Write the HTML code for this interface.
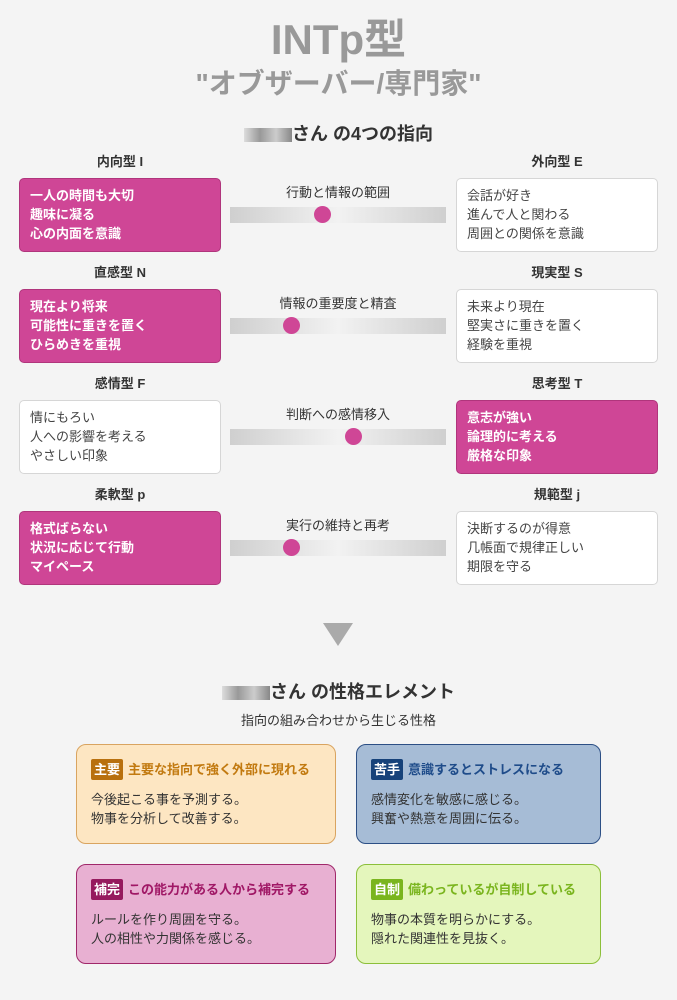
<!DOCTYPE html>
<html><head><meta charset="utf-8"><style>
*{margin:0;padding:0;box-sizing:border-box}
body{width:677px;height:1000px;background:#f4f4f4;font-family:"Liberation Sans","Noto Sans CJK JP",sans-serif;position:relative;overflow:hidden;color:#333}
.a{position:absolute}
.c{text-align:center}
.lab{font-size:13px;font-weight:bold;width:202px;text-align:center}
.box{width:202px;height:74px;border-radius:5px;padding:7px 10px;font-size:13px;line-height:19px}
.on{background:#cf4696;border:1px solid #b0357c;color:#fff;font-weight:bold}
.off{background:#fff;border:1px solid #d6d6d6;color:#444}
.mid{font-size:13px;width:216px;text-align:center}
.bar{width:216px;height:16px;background:linear-gradient(90deg,#cfcfcf,#f2f2f2 50%,#cfcfcf)}
.dot{width:17px;height:17px;border-radius:50%;background:#cf4696}
.card{border-radius:10px;padding:14px 14px;font-size:13px;line-height:19px;color:#333;height:100px}
.card h4{font-size:13px;font-weight:bold;margin-bottom:10px;display:flex;align-items:center}
.card h4 span{color:#fff;padding:1px 3px;border-radius:2px;margin-right:5px}
</style></head><body>
<div class="a c" style="left:0;width:677px;top:6px;font-size:42px;font-weight:bold;color:#999">INTp型</div>
<div class="a c" style="left:0;width:677px;top:62px;font-size:28px;font-weight:bold;color:#999">"オブザーバー/専門家"</div>
<div class="a c" style="left:0;width:677px;top:120px;font-size:18px;font-weight:bold;color:#333"><span style="display:inline-block;width:48px;height:14px;background:linear-gradient(90deg,#ddd,#999,#ccc,#888);vertical-align:middle"></span>さん の4つの指向</div>

<div class="a lab" style="left:19px;top:151px">内向型 I</div>
<div class="a lab" style="left:456px;top:151px">外向型 E</div>
<div class="a box on" style="left:19px;top:178px">一人の時間も大切<br>趣味に凝る<br>心の内面を意識</div>
<div class="a mid" style="left:230px;top:182px">行動と情報の範囲</div>
<div class="a bar" style="left:230px;top:207px"></div>
<div class="a dot" style="left:314px;top:206px"></div>
<div class="a box off" style="left:456px;top:178px">会話が好き<br>進んで人と関わる<br>周囲との関係を意識</div>

<div class="a lab" style="left:19px;top:262px">直感型 N</div>
<div class="a lab" style="left:456px;top:262px">現実型 S</div>
<div class="a box on" style="left:19px;top:289px">現在より将来<br>可能性に重きを置く<br>ひらめきを重視</div>
<div class="a mid" style="left:230px;top:293px">情報の重要度と精査</div>
<div class="a bar" style="left:230px;top:318px"></div>
<div class="a dot" style="left:283px;top:317px"></div>
<div class="a box off" style="left:456px;top:289px">未来より現在<br>堅実さに重きを置く<br>経験を重視</div>

<div class="a lab" style="left:19px;top:373px">感情型 F</div>
<div class="a lab" style="left:456px;top:373px">思考型 T</div>
<div class="a box off" style="left:19px;top:400px">情にもろい<br>人への影響を考える<br>やさしい印象</div>
<div class="a mid" style="left:230px;top:404px">判断への感情移入</div>
<div class="a bar" style="left:230px;top:429px"></div>
<div class="a dot" style="left:345px;top:428px"></div>
<div class="a box on" style="left:456px;top:400px">意志が強い<br>論理的に考える<br>厳格な印象</div>

<div class="a lab" style="left:19px;top:484px">柔軟型 p</div>
<div class="a lab" style="left:456px;top:484px">規範型 j</div>
<div class="a box on" style="left:19px;top:511px">格式ばらない<br>状況に応じて行動<br>マイペース</div>
<div class="a mid" style="left:230px;top:515px">実行の維持と再考</div>
<div class="a bar" style="left:230px;top:540px"></div>
<div class="a dot" style="left:283px;top:539px"></div>
<div class="a box off" style="left:456px;top:511px">決断するのが得意<br>几帳面で規律正しい<br>期限を守る</div>

<div class="a" style="left:323px;top:623px;width:0;height:0;border-left:15px solid transparent;border-right:15px solid transparent;border-top:23px solid #aaa"></div>

<div class="a c" style="left:0;width:677px;top:678px;font-size:18px;font-weight:bold"><span style="display:inline-block;width:48px;height:14px;background:linear-gradient(90deg,#ddd,#999,#ccc,#888);vertical-align:middle"></span>さん の性格エレメント</div>
<div class="a c" style="left:0;width:677px;top:710px;font-size:13px">指向の組み合わせから生じる性格</div>

<div class="a card" style="left:76px;top:744px;width:260px;background:#fde6c2;border:1px solid #d9a460">
<h4 style="color:#c27a10"><span style="background:#b8700e">主要</span>主要な指向で強く外部に現れる</h4>今後起こる事を予測する。<br>物事を分析して改善する。</div>
<div class="a card" style="left:356px;top:744px;width:245px;background:#a6bcd6;border:1px solid #2c4f85">
<h4 style="color:#1f4c8a"><span style="background:#16427a">苦手</span>意識するとストレスになる</h4>感情変化を敏感に感じる。<br>興奮や熱意を周囲に伝る。</div>
<div class="a card" style="left:76px;top:864px;width:260px;background:#e8b0d2;border:1px solid #a0286a">
<h4 style="color:#a01866"><span style="background:#961a5e">補完</span>この能力がある人から補完する</h4>ルールを作り周囲を守る。<br>人の相性や力関係を感じる。</div>
<div class="a card" style="left:356px;top:864px;width:245px;background:#e4f6bc;border:1px solid #8cbf3a">
<h4 style="color:#7ab51e"><span style="background:#7ab51e">自制</span>備わっているが自制している</h4>物事の本質を明らかにする。<br>隠れた関連性を見抜く。</div>
</body></html>
